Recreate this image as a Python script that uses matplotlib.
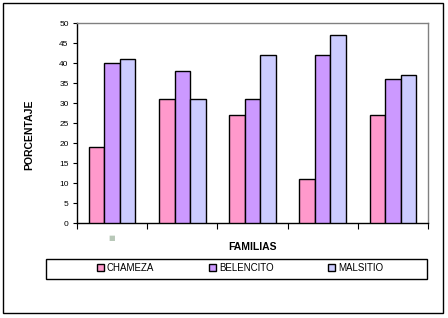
import matplotlib.pyplot as plt
import numpy as np
from matplotlib.patches import Rectangle
from matplotlib.transforms import blended_transform_factory

# ------------------------------------------------------------
# Data
# ------------------------------------------------------------

SERIES = ["CHAMEZA", "BELENCITO", "MALSITIO"]
N_FAMILIAS = 5
chameza = [19, 31, 27, 11, 27]
belencito = [40, 38, 31, 42, 36]
malsitio = [41, 31, 42, 47, 37]

COLORS = ["#FF99CC", "#CC99FF", "#CCCCFF"]

plt.rcParams["font.family"] = ["Liberation Sans", "DejaVu Sans"]

# ------------------------------------------------------------
# Plot
# ------------------------------------------------------------

W, H = 448, 318
fig = plt.figure(figsize=(W / 100, H / 100), dpi=100)
ax = fig.add_axes([77 / W, 1 - 223 / H, 351 / W, 200 / H])

x = np.arange(N_FAMILIAS)
bw = 0.222
handles = []
for i, (vals, col, name) in enumerate(zip([chameza, belencito, malsitio], COLORS, SERIES)):
    b = ax.bar(x + (i - 1) * bw, vals, bw, color=col, edgecolor="black",
               linewidth=1, label=name, zorder=3)
    handles.append(b)

ax.set_xlim(-0.5, N_FAMILIAS - 0.5)
ax.set_ylim(0, 50)
ax.set_yticks(range(0, 51, 5))
ax.set_xticks(np.arange(-0.5, N_FAMILIAS, 1))
ax.set_xticklabels([])
ax.tick_params(axis="y", labelsize=6, length=3, width=0.8, pad=3, colors="black")
ax.tick_params(axis="x", length=4, width=0.8)

for s in ["top", "right"]:
    ax.spines[s].set_color("#808080")
    ax.spines[s].set_linewidth(1)
for s in ["left", "bottom"]:
    ax.spines[s].set_color("black")
    ax.spines[s].set_linewidth(1)

# small grey mark under first family
tr = blended_transform_factory(ax.transData, ax.transAxes)
ax.text(0, -0.075, "■", transform=tr, ha="center", va="center",
        fontsize=5, color="#B8C8B8", family="DejaVu Sans")

fig.text(29 / W, 1 - 135 / H, "PORCENTAJE", rotation=90, ha="center",
         va="center", fontsize=7.5, fontweight="bold")
fig.text(252 / W, 1 - 247 / H, "FAMILIAS", ha="center", va="center",
         fontsize=7.5, fontweight="bold")

# legend
fig.legend(handles=handles, loc="center", bbox_to_anchor=(240 / W, 1 - 268 / H),
           ncol=3, frameon=False, fontsize=7, handlelength=0.75,
           handleheight=0.75, handletextpad=0.3, columnspacing=5.6)
fig.add_artist(Rectangle((46 / W, 1 - 279 / H), 381 / W, 20 / H,
                         transform=fig.transFigure, fill=False,
                         edgecolor="black", linewidth=1))

# outer frame
fig.add_artist(Rectangle((3 / W, 1 - 313 / H), 440 / W, 310 / H,
                         transform=fig.transFigure, fill=False,
                         edgecolor="black", linewidth=1))

fig.savefig("out.png", dpi=100)
